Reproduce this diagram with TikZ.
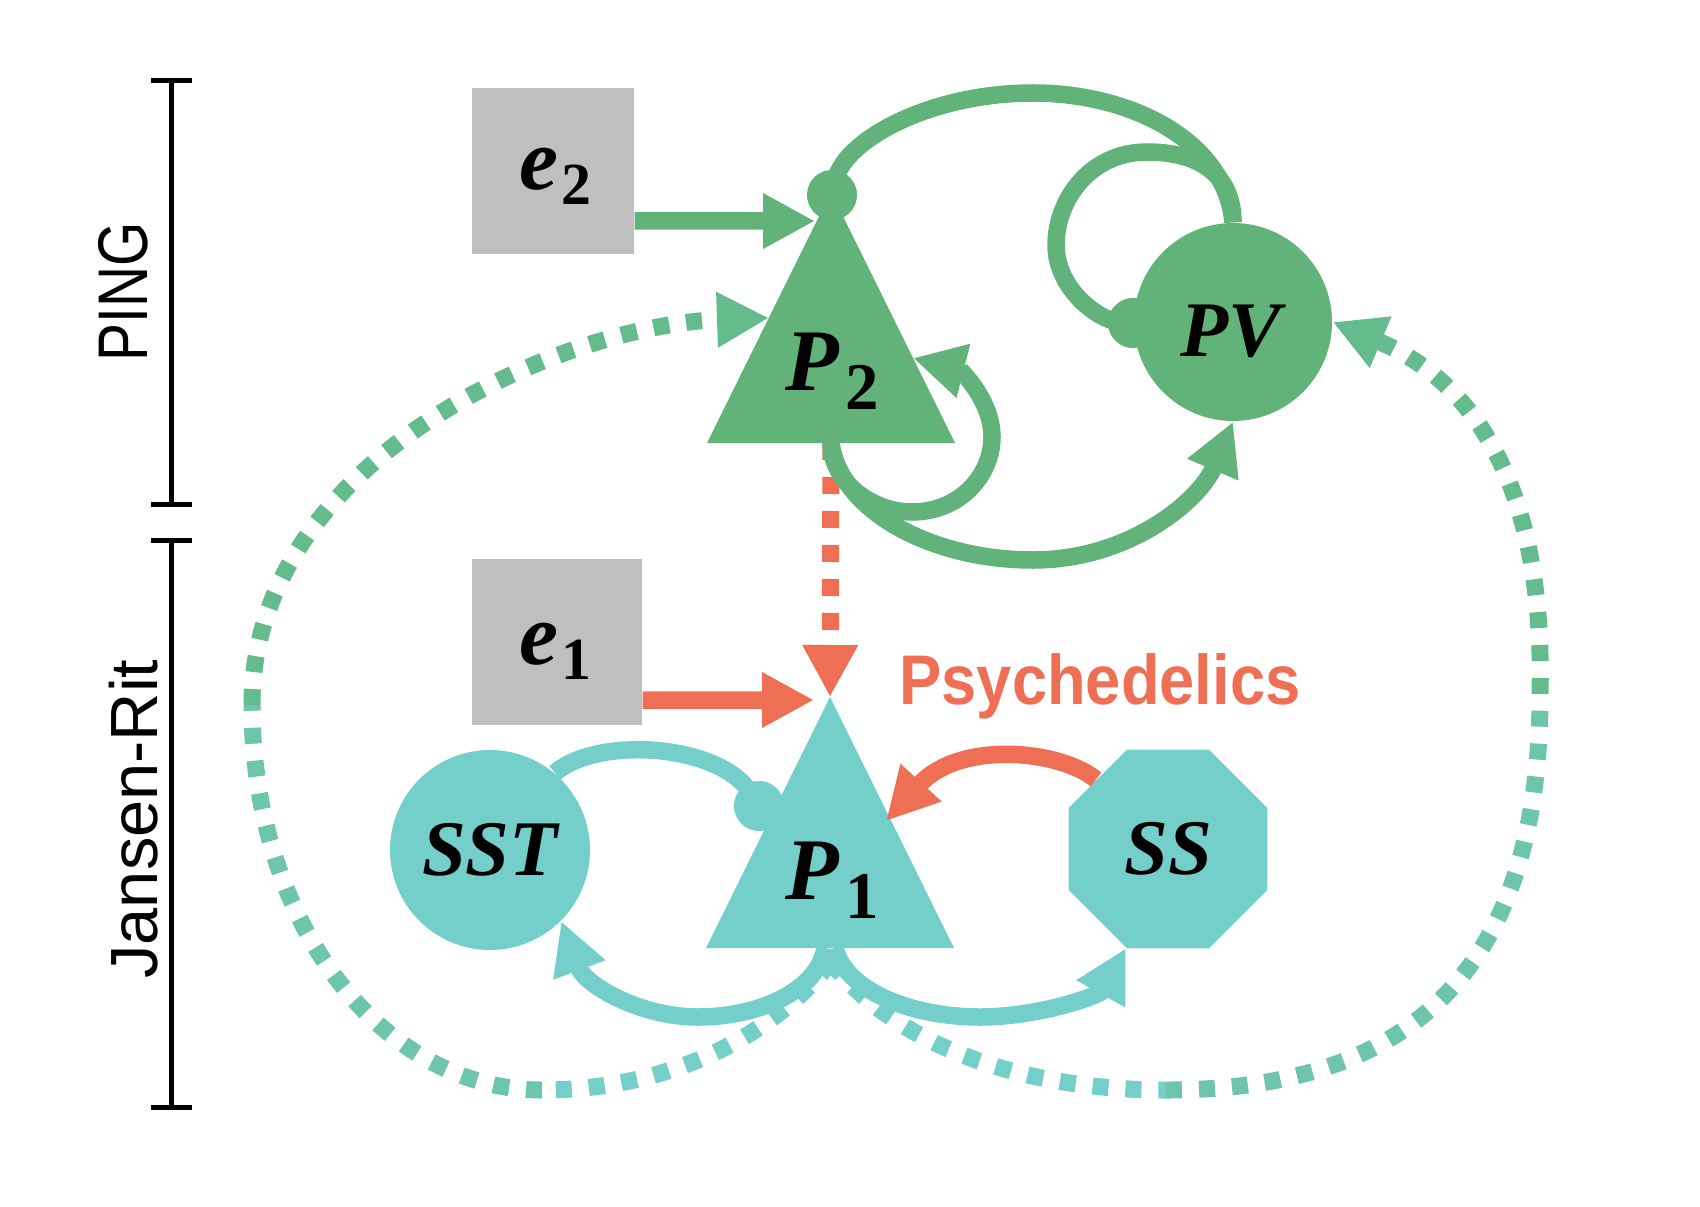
\documentclass[tikz,border=0pt]{standalone}
\usepackage{fontspec}
\newfontfamily\sidefont{Liberation Sans}
\newfontfamily\cellfont{Liberation Serif}
\usetikzlibrary{arrows.meta,shapes.geometric}
\definecolor{pinggreen}{RGB}{98,179,122}
\definecolor{jrteal}{RGB}{116,207,203}
\definecolor{dotmid}{RGB}{108,197,172}
\definecolor{dotgreen}{RGB}{100,187,140}
\definecolor{drugred}{RGB}{238,111,83}
\definecolor{inputgray}{RGB}{191,191,191}

\begin{document}
\begin{tikzpicture}[x=0.1mm,y=-0.1mm,>={Triangle[length=5.2mm,width=5.2mm]},
    input node/.style={fill=inputgray,inner sep=0pt,minimum height=16.6mm},
    cell node/.style={fill=#1,circle,inner sep=0pt,minimum size=19.8mm,font=\cellfont\bfseries\itshape\fontsize{22.4}{26}\selectfont},
    tri label/.style={font=\cellfont\bfseries\fontsize{25}{30}\selectfont},
    side label/.style={rotate=90,font=\sidefont\fontsize{20}{24}\selectfont},
    link/.style={line width=1.75mm},
    inhib/.style={-{Circle[length=5mm]},shorten >=-2.5mm},
    dotted link/.style={line width=1.7mm,dash pattern=on 1.6mm off 1.7mm},
    range bar/.style={line width=0.5mm,{Bar[width=4.1mm]}-{Bar[width=4.1mm]}}]
  \useasboundingbox (0,0) rectangle (1700,1206);

  \coordinate (pingtop) at (171,78);
  \coordinate (pingbot) at (171,507);
  \coordinate (jrtop) at (171,538);
  \coordinate (jrbot) at (171,1110);
  \draw[range bar] (pingtop) -- (pingbot);
  \draw[range bar] (jrtop) -- (jrbot);
  \node[side label] (ping) at (123,292) {\scalebox{0.81}[1]{PING}};
  \node[side label,font=\sidefont\fontsize{19}{23}\selectfont] (jr) at (134,819) {Jansen-Rit};

  \node[input node,minimum width=16.2mm] (e2) at (553,171) {};
  \node[input node,minimum width=17mm] (e1) at (557,642) {};
  \node[tri label] (e2name) at (555,176) {\textit{e}\kern0.3mm\raisebox{-1.5mm}{\fontsize{17}{17}\selectfont 2}};
  \node[tri label] (e1name) at (555,651) {\textit{e}\kern0.3mm\raisebox{-1.5mm}{\fontsize{17}{17}\selectfont 1}};

  \coordinate (P2a) at (831,192);
  \coordinate (P2b) at (831,443);
  \fill[pinggreen] (P2a) -- (707,443) -- (955,443) -- cycle;
  \node[tri label] (P2) at (832,371) {\textit{P}\kern0.6mm\raisebox{-1.9mm}{\fontsize{19}{19}\selectfont 2}};
  \coordinate (P1a) at (830,697);
  \coordinate (P1b) at (830,948);
  \fill[jrteal] (P1a) -- (706,948) -- (954,948) -- cycle;
  \node[tri label] (P1) at (832,880) {\textit{P}\kern0.6mm\raisebox{-1.9mm}{\fontsize{19}{19}\selectfont 1}};

  \node[cell node=pinggreen] (PV) at (1233,322) {};
  \node[cell node=none,fill=none,minimum size=0pt] (PVname) at (1231,331) {PV};
  \node[cell node=jrteal,minimum size=20mm] (SST) at (490,850) {SST};
  \node[regular polygon,regular polygon sides=8,minimum size=21.5mm,inner sep=0pt,fill=jrteal,
        font=\cellfont\bfseries\itshape\fontsize{22.4}{26}\selectfont] (SS) at (1168,849) {SS};
  \node[text=drugred,font=\sidefont\bfseries\fontsize{20}{24}\selectfont] (drug) at (1100,686) {\scalebox{0.9}[1]{Psychedelics}};

  \coordinate (P2in) at (815,221);
  \coordinate (P1in) at (814,700);
  \coordinate (P2dot) at (832,195);
  \coordinate (PVdot) at (1133,323);
  \coordinate (P1dot) at (759,806);
  \coordinate (P2side) at (913,358);
  \coordinate (P1side) at (886,821);
  \coordinate (P2left) at (769,318);
  \coordinate (P1foot) at (831,962);
  \coordinate (lbot) at (542,1090);
  \coordinate (lside) at (252,705);
  \coordinate (rbot) at (1166,1090);
  \coordinate (rside) at (1540,694);

  \draw[link,pinggreen,->] ([yshift=-5mm]e2.east) -- (P2in);
  \draw[link,drugred,->] ([yshift=-5.8mm]e1.east) -- (P1in);
  \draw[drugred,line width=1.7mm,dash pattern=on 1.7mm off 1.7mm,->] (P2b) -- (P1a);

  \draw[link,pinggreen,inhib] (PV.north) .. controls (1225,140) and (1130,93) .. (1033,93)
    .. controls (930,93) and (845,140) .. (P2dot);
  \draw[link,pinggreen,inhib] (PV.north) .. controls (1233,175) and (1200,152) .. (1147,152)
    .. controls (1090,152) and (1056,200) .. (1056,245)
    .. controls (1056,290) and (1100,320) .. (PVdot);
  \draw[link,pinggreen,->] (P2b) .. controls (831,480) and (870,512) .. (912,512)
    .. controls (960,512) and (992,475) .. (992,437)
    .. controls (992,400) and (960,370) .. (P2side);
  \draw[link,pinggreen,->] (P2b) .. controls (840,510) and (930,560) .. (1033,560)
    .. controls (1130,560) and (1200,500) .. (PV.south);

  \draw[link,jrteal,inhib] (SST.50) .. controls (600,735) and (720,745) .. (P1dot);
  \draw[link,jrteal,->] ([xshift=-0.5mm]P1b) .. controls (818,990) and (760,1017) .. (698,1017)
    .. controls (640,1017) and (585,985) .. (SST.-45);
  \draw[link,jrteal,->] ([xshift=0.5mm]P1b) .. controls (845,990) and (910,1017) .. (980,1017)
    .. controls (1040,1017) and (1100,995) .. (SS.247.5);
  \draw[link,drugred,->] (SS.136) .. controls (1060,750) and (960,740) .. (P1side);

  \draw[dotted link,jrteal] (P1foot) .. controls (760,1050) and (650,1090) .. (lbot);
  \draw[dotted link,dotmid] (lbot) .. controls (380,1090) and (252,920) .. (lside);
  \draw[dotted link,dotgreen,->] (lside) .. controls (252,460) and (560,325) .. (P2left);
  \draw[dotted link,jrteal] (P1foot) .. controls (900,1050) and (1030,1090) .. (rbot);
  \draw[dotted link,dotmid] (rbot) .. controls (1420,1090) and (1540,960) .. (rside);
  \draw[dotted link,dotgreen,->] (rside) .. controls (1545,480) and (1470,380) .. (PV.east);
\end{tikzpicture}
\end{document}
